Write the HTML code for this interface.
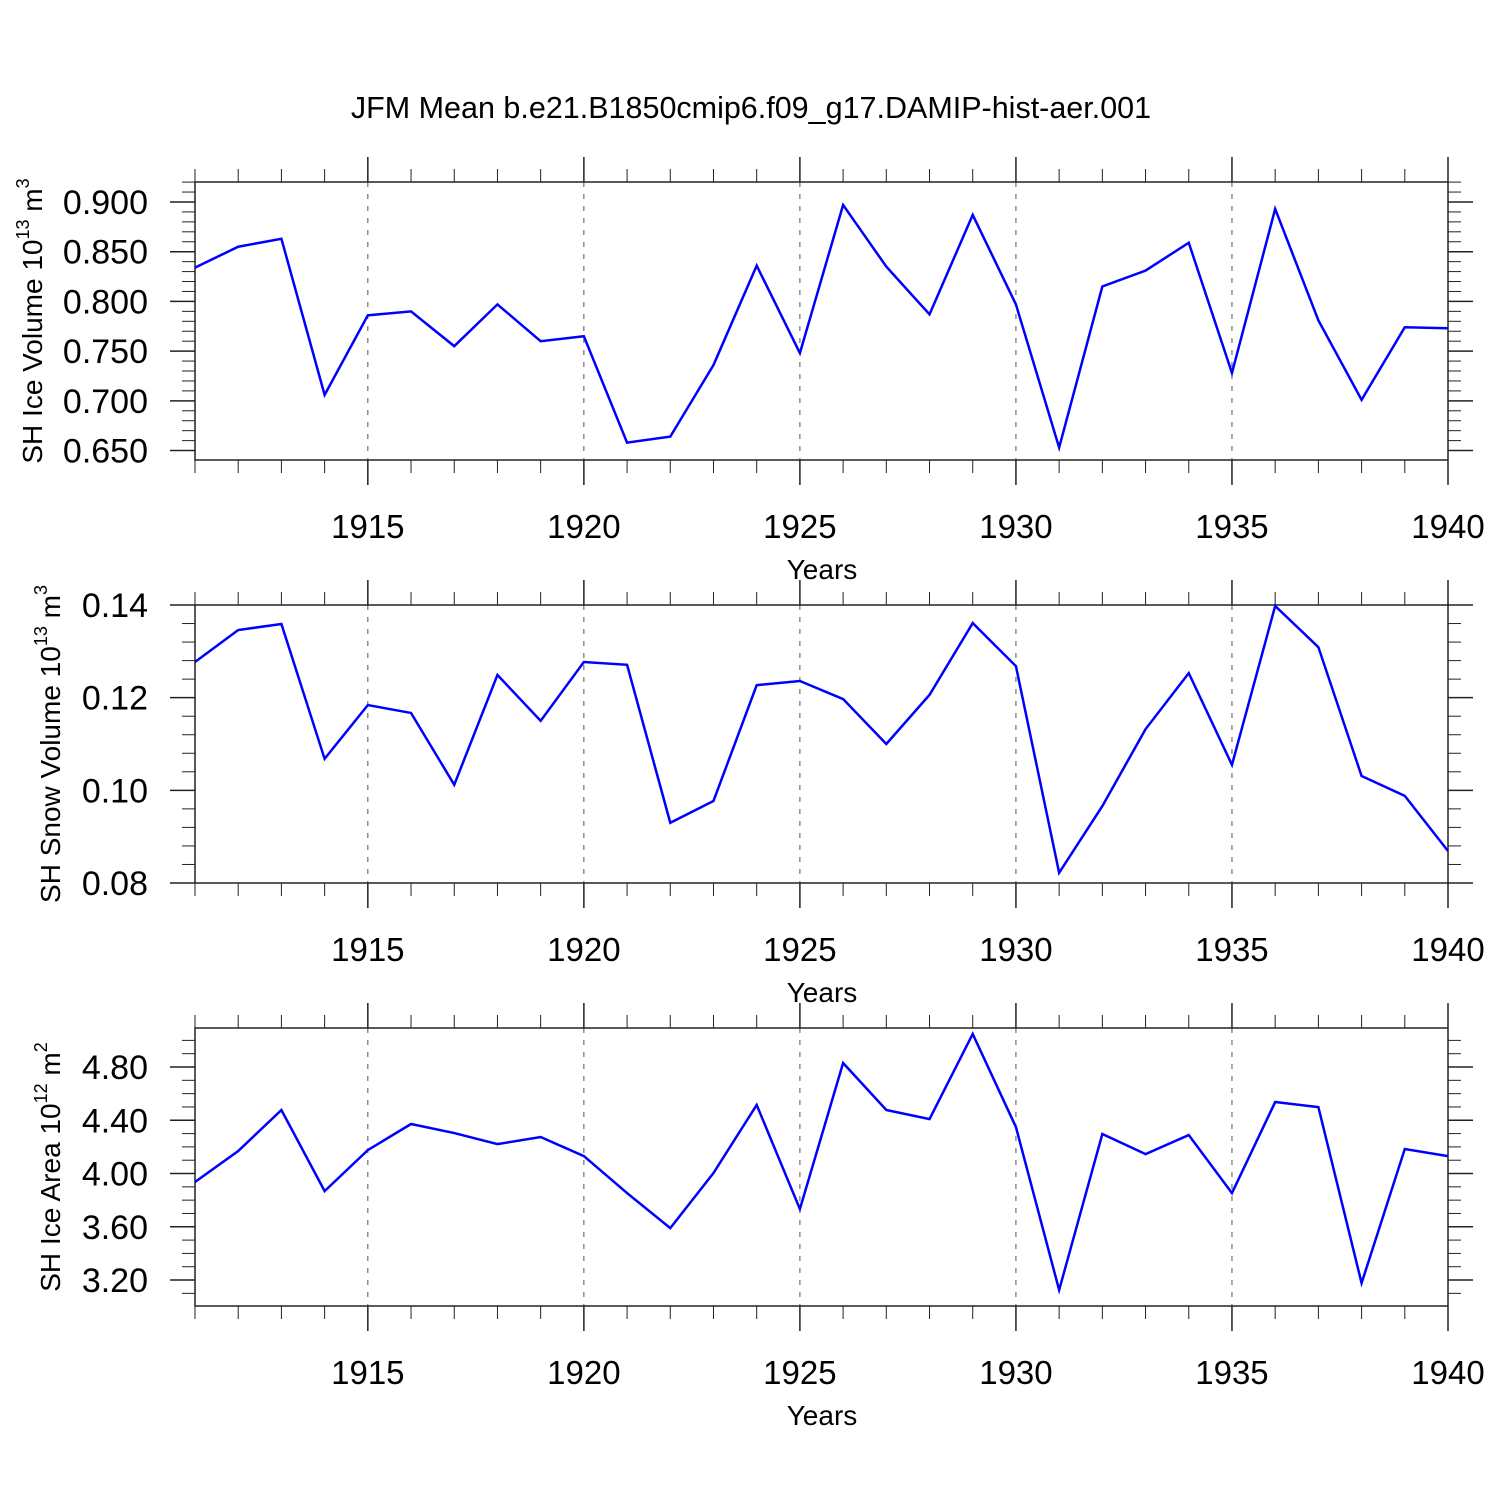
<!DOCTYPE html>
<html><head><meta charset="utf-8"><style>
body{margin:0;background:#fff}
text{font-family:"Liberation Sans",sans-serif;fill:#000}
</style></head><body>
<svg id="c" width="1500" height="1500" xmlns="http://www.w3.org/2000/svg">
<text x="751" y="118" font-size="30.5" text-anchor="middle">JFM Mean b.e21.B1850cmip6.f09_g17.DAMIP-hist-aer.001</text>
</svg>
<script>
const years = [1911,1912,1913,1914,1915,1916,1917,1918,1919,1920,1921,1922,1923,1924,1925,1926,1927,1928,1929,1930,1931,1932,1933,1934,1935,1936,1937,1938,1939,1940];
const iceVolume = [0.834,0.855,0.863,0.706,0.786,0.790,0.755,0.797,0.760,0.765,0.658,0.664,0.736,0.836,0.748,0.897,0.835,0.787,0.887,0.797,0.653,0.815,0.831,0.859,0.728,0.893,0.781,0.701,0.774,0.773];
const snowVolume = [0.1277,0.1346,0.1359,0.1068,0.1184,0.1167,0.1012,0.1249,0.1150,0.1277,0.1271,0.0930,0.0977,0.1227,0.1236,0.1197,0.1100,0.1206,0.1361,0.1268,0.0822,0.0966,0.1132,0.1253,0.1055,0.1398,0.1309,0.1031,0.0988,0.0869];
const iceArea = [3.936,4.169,4.477,3.868,4.176,4.372,4.304,4.221,4.274,4.131,3.853,3.590,4.004,4.515,3.733,4.830,4.477,4.409,5.048,4.349,3.125,4.297,4.146,4.289,3.853,4.537,4.499,3.177,4.184,4.131];
const xTicks = [1915,1920,1925,1930,1935,1940];
const iceVolTicks = [0.65,0.70,0.75,0.80,0.85,0.90];
const snowTicks = [0.08,0.10,0.12,0.14];
const areaTicks = [3.2,3.6,4.0,4.4,4.8];

const svg = document.getElementById('c');
const NS = 'http://www.w3.org/2000/svg';
function mk(tag, attrs, parent){const e=document.createElementNS(NS,tag);for(const k in attrs)e.setAttribute(k,attrs[k]);(parent||svg).appendChild(e);return e;}
const X0=195,X1=1448,xmin=1911,xmax=1940;
const xs = v => X0+(v-xmin)/(xmax-xmin)*(X1-X0);

function panel(name, top, ymin, ymax, vals, ticks, dec, minorStep, labelMain, sup, unit){
  const bot=top+278;
  const g=mk('g',{});
  
  
  const ys = v => bot-(v-ymin)/(ymax-ymin)*(bot-top);
  xTicks.forEach(t=>{ if(t<xmax){ const l=mk('line',{x1:xs(t),x2:xs(t),y1:top,y2:bot,stroke:'#555','stroke-width':1,'stroke-dasharray':'5,7'},g);
    
    }});
  for(let y=xmin;y<=xmax;y++){
    const maj=xTicks.includes(y);const L=maj?25:13;
    mk('line',{x1:xs(y),x2:xs(y),y1:top-L,y2:top,stroke:'#222','stroke-width':maj?1.5:1},g);
    mk('line',{x1:xs(y),x2:xs(y),y1:bot,y2:bot+L,stroke:'#222','stroke-width':maj?1.5:1},g);
  }
  xTicks.forEach(t=>{const tx=mk('text',{x:xs(t),y:bot+78,'font-size':33,'text-anchor':'middle'},g);tx.textContent=t;
    
    });
  const xt=mk('text',{x:822,y:bot+119,'font-size':28,'text-anchor':'middle'},g);xt.textContent='Years';
  
  
  const start=Math.ceil(ymin/minorStep-1e-6);
  for(let i=start;i*minorStep<=ymax+1e-9;i++){
    const v=i*minorStep;const y=ys(v);
    const maj=ticks.some(t=>Math.abs(t-v)<minorStep/10);const L=maj?25:13;
    mk('line',{x1:X0-L,x2:X0,y1:y,y2:y,stroke:'#222','stroke-width':maj?1.5:1},g);
    mk('line',{x1:X1,x2:X1+L,y1:y,y2:y,stroke:'#222','stroke-width':maj?1.5:1},g);
  }
  ticks.forEach(t=>{const tx=mk('text',{x:X0-22-(25),y:ys(t)+12,'font-size':34,'text-anchor':'end'},g);tx.textContent=t.toFixed(dec);
    
    });
  mk('rect',{x:X0,y:top,width:X1-X0,height:bot-top,fill:'none',stroke:'#222','stroke-width':1.5},g);
  const pts=vals.map((v,i)=>xs(years[i])+','+ys(v)).join(' ');
  const pl=mk('polyline',{points:pts,fill:'none',stroke:'#0000ff','stroke-width':2.5,'stroke-linejoin':'miter'},g);
  
  
  const yt=mk('text',{transform:`translate(${labelMain.x},${(top+bot)/2}) rotate(-90)`,'font-size':28,'text-anchor':'middle'},g);
  
  
  yt.innerHTML=`${labelMain.t} 10<tspan dy="-13" font-size="18">${sup}</tspan><tspan dy="13"> m</tspan><tspan dy="-13" font-size="18">${unit}</tspan>`;
}
panel('ice-volume',182,0.6405,0.9201,iceVolume,iceVolTicks,3,0.01,{x:42,t:'SH Ice Volume'},'13','3');
panel('snow-volume',605,0.08,0.14,snowVolume,snowTicks,2,0.004,{x:60,t:'SH Snow Volume'},'13','3');
panel('ice-area',1028,3.005,5.093,iceArea,areaTicks,2,0.1,{x:60,t:'SH Ice Area'},'12','2');
</script>
</body></html>
